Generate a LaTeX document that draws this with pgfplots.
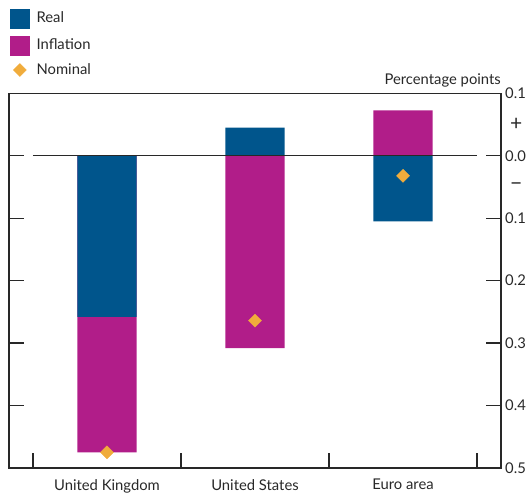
\documentclass[border=0pt]{standalone}
\usepackage{fontspec}
\setmainfont{Lato}
\usepackage{pgfplots}
\pgfplotsset{compat=1.18}
\definecolor{boeblue}{RGB}{0,85,140}
\definecolor{boemag}{RGB}{177,29,137}
\definecolor{boeorg}{RGB}{240,172,60}
\definecolor{axisgray}{RGB}{40,40,40}
\begin{document}
\fontsize{14.8bp}{17bp}\selectfont
\begin{tikzpicture}
\useasboundingbox (0bp,0bp) rectangle (530bp,-496bp);
\begin{axis}[
  at={(9bp,-93.4bp)}, anchor=north west,
  scale only axis, width=492bp, height=374.5bp,
  xmin=-0.662, xmax=2.662, ymin=-0.5, ymax=0.1,
  axis line style={draw=axisgray, line width=1.2bp},
  tick style={draw=axisgray, line width=1.2bp},
  tick align=inside, major tick length=15bp,
  ytick={-0.5,-0.4,-0.3,-0.2,-0.1,0,0.1},
  yticklabels={0.5,0.4,0.3,0.2,0.1,0.0,0.1},
  yticklabel pos=right, ytick pos=both,
  yticklabel style={anchor=west, inner sep=0pt, xshift=4bp, text=axisgray},
  extra y ticks={0.05,-0.05},
  extra y tick labels={+,−},
  extra y tick style={major tick length=0pt, yticklabel style={xshift=5bp, font=\fontsize{21bp}{21bp}\selectfont}},
  xtick={0,1,2},
  xticklabels={United Kingdom, United States, Euro area},
  xtick pos=bottom,
  xtick style={draw=none},
  xticklabel style={inner sep=0pt, yshift=-11bp, text=axisgray},
  extra x ticks={-0.5,0.5,1.5,2.5},
  extra x tick labels={},
  extra x tick style={xtick style={draw=axisgray, line width=1.2bp}},
  legend style={draw=none, fill=none, at={(0.002,1.2267)}, anchor=north west,
    inner sep=0pt, row sep=7.5bp, column sep=6bp,
    nodes={inner sep=1bp, text=axisgray},
    cells={anchor=west}},
  clip=false,
]
\addlegendimage{legend image code/.code={\fill[boeblue] (0bp,-9.5bp) rectangle (19bp,9.5bp);}}
\addlegendentry{Real}
\addlegendimage{legend image code/.code={\fill[boemag] (0bp,-9.5bp) rectangle (19bp,9.5bp);}}
\addlegendentry{Inflation}
% Inflation bars (drawn from zero; UK shows cumulative real+inflation)
\addplot[ybar, bar width=0.4, bar shift=0pt, fill=boemag, draw=none, forget plot]
  coordinates {(0,-0.475) (1,-0.308) (2,0.073)};
% Real bars
\addplot[ybar, bar width=0.4, bar shift=0pt, fill=boeblue, draw=none, forget plot]
  coordinates {(0,-0.258) (1,0.045) (2,-0.105)};
\draw[axisgray, line width=1.2bp] (axis cs:-0.5,0) -- (axis cs:2.5,0);
% Nominal
\addplot[only marks, color=boeorg, mark=square*, mark size=4.6bp, mark options={rotate=45, fill=boeorg, draw=boeorg},
  legend image code/.code={\fill[boeorg] (3bp,0bp) -- (9.5bp,6.5bp) -- (16bp,0bp) -- (9.5bp,-6.5bp) -- cycle;}]
  coordinates {(0,-0.475) (1,-0.264) (2,-0.032)};
\addlegendentry{Nominal}
\end{axis}
\node[anchor=base east, inner sep=0pt, text=axisgray] at (501bp,-84bp) {Percentage points};
\end{tikzpicture}
\end{document}
